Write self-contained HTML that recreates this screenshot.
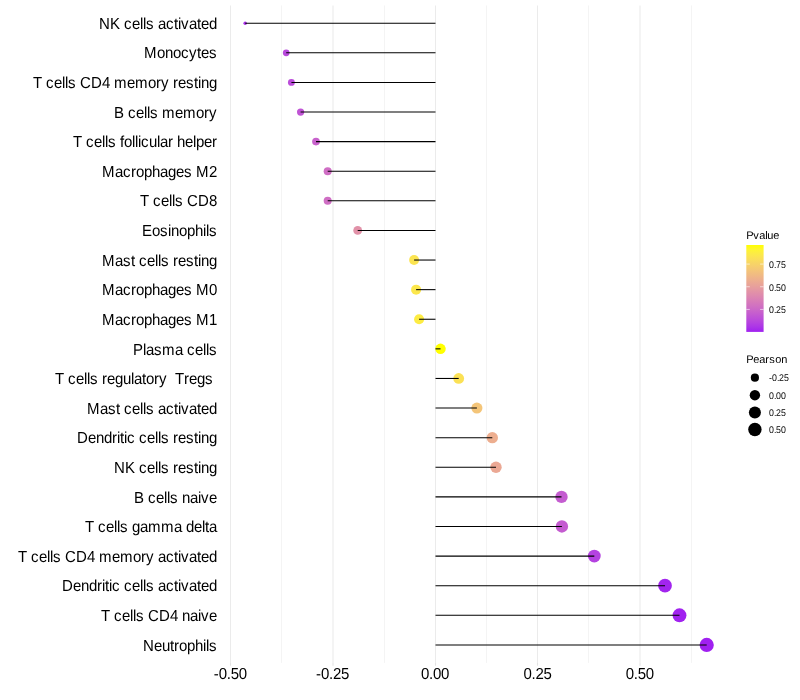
<!DOCTYPE html>
<html><head><meta charset="utf-8"><style>
html,body{margin:0;padding:0;background:#fff;width:800px;height:700px;overflow:hidden}
svg{display:block;will-change:transform}
text{font-family:"Liberation Sans",sans-serif;text-rendering:geometricPrecision}
.yl{font-size:15px;fill:#000}
.lt{font-size:11px;fill:#000}
.ll{font-size:8.8px;fill:#000}
</style></head><body>
<svg width="800" height="700" viewBox="0 0 800 700">
<rect width="800" height="700" fill="#fff"/>
<defs><linearGradient id="g" x1="0" y1="0" x2="0" y2="1"><stop offset="0.000" stop-color="#ffff00"/><stop offset="0.050" stop-color="#fef530"/><stop offset="0.100" stop-color="#fceb46"/><stop offset="0.150" stop-color="#fbe156"/><stop offset="0.200" stop-color="#f8d763"/><stop offset="0.250" stop-color="#f6cd6f"/><stop offset="0.300" stop-color="#f3c37a"/><stop offset="0.350" stop-color="#f0b984"/><stop offset="0.400" stop-color="#edaf8e"/><stop offset="0.450" stop-color="#e9a597"/><stop offset="0.500" stop-color="#e59ba0"/><stop offset="0.550" stop-color="#e190a9"/><stop offset="0.600" stop-color="#dc86b1"/><stop offset="0.650" stop-color="#d77bb9"/><stop offset="0.700" stop-color="#d171c1"/><stop offset="0.750" stop-color="#ca66c9"/><stop offset="0.800" stop-color="#c35ad1"/><stop offset="0.850" stop-color="#bc4ed9"/><stop offset="0.900" stop-color="#b441e1"/><stop offset="0.950" stop-color="#aa33e8"/><stop offset="1.000" stop-color="#a020f0"/></linearGradient></defs>
<line x1="230.50" y1="5.5" x2="230.50" y2="662.9" stroke="#ebebeb" stroke-width="1.07"/>
<line x1="230.50" y1="662.9" x2="230.50" y2="665.7" stroke="#e3e3e3" stroke-width="1.07"/>
<line x1="281.50" y1="5.5" x2="281.50" y2="662.9" stroke="#ebebeb" stroke-width="0.53"/>
<line x1="333.00" y1="5.5" x2="333.00" y2="662.9" stroke="#ebebeb" stroke-width="1.07"/>
<line x1="333.00" y1="662.9" x2="333.00" y2="665.7" stroke="#e3e3e3" stroke-width="1.07"/>
<line x1="384.50" y1="5.5" x2="384.50" y2="662.9" stroke="#ebebeb" stroke-width="0.53"/>
<line x1="435.50" y1="5.5" x2="435.50" y2="662.9" stroke="#ebebeb" stroke-width="1.07"/>
<line x1="435.50" y1="662.9" x2="435.50" y2="665.7" stroke="#e3e3e3" stroke-width="1.07"/>
<line x1="486.50" y1="5.5" x2="486.50" y2="662.9" stroke="#ebebeb" stroke-width="0.53"/>
<line x1="537.50" y1="5.5" x2="537.50" y2="662.9" stroke="#ebebeb" stroke-width="1.07"/>
<line x1="537.50" y1="662.9" x2="537.50" y2="665.7" stroke="#e3e3e3" stroke-width="1.07"/>
<line x1="588.50" y1="5.5" x2="588.50" y2="662.9" stroke="#ebebeb" stroke-width="0.53"/>
<line x1="640.00" y1="5.5" x2="640.00" y2="662.9" stroke="#ebebeb" stroke-width="1.07"/>
<line x1="640.00" y1="662.9" x2="640.00" y2="665.7" stroke="#e3e3e3" stroke-width="1.07"/>
<line x1="691.50" y1="5.5" x2="691.50" y2="662.9" stroke="#ebebeb" stroke-width="0.53"/>
<circle cx="245.20" cy="23.20" r="1.77" fill="#a931e9"/>
<circle cx="286.20" cy="52.80" r="3.36" fill="#b849dc"/>
<circle cx="291.40" cy="82.41" r="3.45" fill="#bb4dda"/>
<circle cx="300.60" cy="112.02" r="3.62" fill="#c054d5"/>
<circle cx="316.00" cy="141.62" r="3.86" fill="#c862cc"/>
<circle cx="327.70" cy="171.22" r="4.02" fill="#cf6ec4"/>
<circle cx="327.70" cy="200.83" r="4.02" fill="#cf6ec4"/>
<circle cx="357.70" cy="230.44" r="4.40" fill="#e191a8"/>
<circle cx="414.10" cy="260.04" r="4.99" fill="#fbe451"/>
<circle cx="416.10" cy="289.64" r="5.01" fill="#fce74c"/>
<circle cx="419.10" cy="319.25" r="5.04" fill="#fdec43"/>
<circle cx="440.50" cy="348.86" r="5.24" fill="#ffff00"/>
<circle cx="458.70" cy="378.46" r="5.40" fill="#fbe155"/>
<circle cx="476.90" cy="408.06" r="5.55" fill="#f4c579"/>
<circle cx="492.30" cy="437.67" r="5.67" fill="#edae8f"/>
<circle cx="496.00" cy="467.27" r="5.70" fill="#eba894"/>
<circle cx="561.50" cy="496.88" r="6.18" fill="#c45cd0"/>
<circle cx="561.90" cy="526.49" r="6.19" fill="#c45bd0"/>
<circle cx="594.30" cy="556.09" r="6.41" fill="#b442e0"/>
<circle cx="665.00" cy="585.70" r="6.86" fill="#a225ee"/>
<circle cx="679.50" cy="615.30" r="6.94" fill="#a122ef"/>
<circle cx="706.70" cy="644.91" r="7.10" fill="#a020f0"/>
<line x1="435.50" y1="23.20" x2="245.20" y2="23.20" stroke="#000" stroke-width="1.07"/>
<line x1="435.50" y1="52.80" x2="286.20" y2="52.80" stroke="#000" stroke-width="1.07"/>
<line x1="435.50" y1="82.41" x2="291.40" y2="82.41" stroke="#000" stroke-width="1.07"/>
<line x1="435.50" y1="112.02" x2="300.60" y2="112.02" stroke="#000" stroke-width="1.07"/>
<line x1="435.50" y1="141.62" x2="316.00" y2="141.62" stroke="#000" stroke-width="1.07"/>
<line x1="435.50" y1="171.22" x2="327.70" y2="171.22" stroke="#000" stroke-width="1.07"/>
<line x1="435.50" y1="200.83" x2="327.70" y2="200.83" stroke="#000" stroke-width="1.07"/>
<line x1="435.50" y1="230.44" x2="357.70" y2="230.44" stroke="#000" stroke-width="1.07"/>
<line x1="435.50" y1="260.04" x2="414.10" y2="260.04" stroke="#000" stroke-width="1.07"/>
<line x1="435.50" y1="289.64" x2="416.10" y2="289.64" stroke="#000" stroke-width="1.07"/>
<line x1="435.50" y1="319.25" x2="419.10" y2="319.25" stroke="#000" stroke-width="1.07"/>
<line x1="435.50" y1="348.86" x2="440.50" y2="348.86" stroke="#000" stroke-width="1.07"/>
<line x1="435.50" y1="378.46" x2="458.70" y2="378.46" stroke="#000" stroke-width="1.07"/>
<line x1="435.50" y1="408.06" x2="476.90" y2="408.06" stroke="#000" stroke-width="1.07"/>
<line x1="435.50" y1="437.67" x2="492.30" y2="437.67" stroke="#000" stroke-width="1.07"/>
<line x1="435.50" y1="467.27" x2="496.00" y2="467.27" stroke="#000" stroke-width="1.07"/>
<line x1="435.50" y1="496.88" x2="561.50" y2="496.88" stroke="#000" stroke-width="1.07"/>
<line x1="435.50" y1="526.49" x2="561.90" y2="526.49" stroke="#000" stroke-width="1.07"/>
<line x1="435.50" y1="556.09" x2="594.30" y2="556.09" stroke="#000" stroke-width="1.07"/>
<line x1="435.50" y1="585.70" x2="665.00" y2="585.70" stroke="#000" stroke-width="1.07"/>
<line x1="435.50" y1="615.30" x2="679.50" y2="615.30" stroke="#000" stroke-width="1.07"/>
<line x1="435.50" y1="644.91" x2="706.70" y2="644.91" stroke="#000" stroke-width="1.07"/>
<text x="99.00 110.00 120.00 124.00 132.00 140.00 143.00 146.00 154.00 158.00 166.00 174.00 178.00 181.00 189.00 197.00 201.00 209.00" y="0" transform="translate(0,29.00) scale(1,1.06)" class="yl">NK&#160;cells&#160;activated</text>
<text x="144.00 157.00 165.00 173.00 181.00 189.00 197.00 201.00 209.00" y="0" transform="translate(0,58.00) scale(1,1.06)" class="yl">Monocytes</text>
<text x="33.00 42.00 46.00 54.00 62.00 65.00 68.00 76.00 80.00 91.00 102.00 110.00 114.00 127.00 135.00 148.00 156.00 161.00 169.00 173.00 178.00 186.00 194.00 198.00 201.00 209.00" y="0" transform="translate(0,88.00) scale(1,1.06)" class="yl">T&#160;cells&#160;CD4&#160;memory&#160;resting</text>
<text x="114.00 124.00 128.00 136.00 144.00 147.00 150.00 158.00 162.00 175.00 183.00 196.00 204.00 209.00" y="0" transform="translate(0,118.00) scale(1,1.06)" class="yl">B&#160;cells&#160;memory</text>
<text x="73.00 82.00 86.00 94.00 102.00 105.00 108.00 116.00 120.00 124.00 132.00 135.00 138.00 141.00 149.00 157.00 160.00 168.00 173.00 177.00 185.00 193.00 196.00 204.00 212.00" y="0" transform="translate(0,147.00) scale(1,1.06)" class="yl">T&#160;cells&#160;follicular&#160;helper</text>
<text x="102.00 115.00 123.00 131.00 136.00 144.00 152.00 160.00 168.00 176.00 184.00 192.00 196.00 209.00" y="0" transform="translate(0,177.00) scale(1,1.06)" class="yl">Macrophages&#160;M2</text>
<text x="140.00 149.00 153.00 161.00 169.00 172.00 175.00 183.00 187.00 198.00 209.00" y="0" transform="translate(0,206.00) scale(1,1.06)" class="yl">T&#160;cells&#160;CD8</text>
<text x="142.00 152.00 160.00 168.00 171.00 179.00 187.00 195.00 203.00 206.00 209.00" y="0" transform="translate(0,236.00) scale(1,1.06)" class="yl">Eosinophils</text>
<text x="102.00 115.00 123.00 131.00 135.00 139.00 147.00 155.00 158.00 161.00 169.00 173.00 178.00 186.00 194.00 198.00 201.00 209.00" y="0" transform="translate(0,266.00) scale(1,1.06)" class="yl">Mast&#160;cells&#160;resting</text>
<text x="102.00 115.00 123.00 131.00 136.00 144.00 152.00 160.00 168.00 176.00 184.00 192.00 196.00 209.00" y="0" transform="translate(0,295.00) scale(1,1.06)" class="yl">Macrophages&#160;M0</text>
<text x="102.00 115.00 123.00 131.00 136.00 144.00 152.00 160.00 168.00 176.00 184.00 192.00 196.00 209.00" y="0" transform="translate(0,325.00) scale(1,1.06)" class="yl">Macrophages&#160;M1</text>
<text x="133.00 143.00 146.00 154.00 162.00 175.00 183.00 187.00 195.00 203.00 206.00 209.00" y="0" transform="translate(0,355.00) scale(1,1.06)" class="yl">Plasma&#160;cells</text>
<text x="55.00 64.00 68.00 76.00 84.00 87.00 90.00 98.00 102.00 107.00 115.00 123.00 131.00 134.00 142.00 146.00 154.00 159.00 167.00 171.00 175.00 184.00 189.00 197.00 205.00 213.00" y="0" transform="translate(0,384.00) scale(1,1.06)" class="yl">T&#160;cells&#160;regulatory&#160;&#160;Tregs&#160;</text>
<text x="87.00 100.00 108.00 116.00 120.00 124.00 132.00 140.00 143.00 146.00 154.00 158.00 166.00 174.00 178.00 181.00 189.00 197.00 201.00 209.00" y="0" transform="translate(0,414.00) scale(1,1.06)" class="yl">Mast&#160;cells&#160;activated</text>
<text x="77.00 88.00 96.00 104.00 112.00 117.00 120.00 124.00 127.00 135.00 139.00 147.00 155.00 158.00 161.00 169.00 173.00 178.00 186.00 194.00 198.00 201.00 209.00" y="0" transform="translate(0,443.00) scale(1,1.06)" class="yl">Dendritic&#160;cells&#160;resting</text>
<text x="114.00 125.00 135.00 139.00 147.00 155.00 158.00 161.00 169.00 173.00 178.00 186.00 194.00 198.00 201.00 209.00" y="0" transform="translate(0,473.00) scale(1,1.06)" class="yl">NK&#160;cells&#160;resting</text>
<text x="134.00 144.00 148.00 156.00 164.00 167.00 170.00 178.00 182.00 190.00 198.00 201.00 209.00" y="0" transform="translate(0,503.00) scale(1,1.06)" class="yl">B&#160;cells&#160;naive</text>
<text x="85.00 94.00 98.00 106.00 114.00 117.00 120.00 128.00 132.00 140.00 148.00 161.00 174.00 182.00 186.00 194.00 202.00 205.00 209.00" y="0" transform="translate(0,532.00) scale(1,1.06)" class="yl">T&#160;cells&#160;gamma&#160;delta</text>
<text x="18.00 27.00 31.00 39.00 47.00 50.00 53.00 61.00 65.00 76.00 87.00 95.00 99.00 112.00 120.00 133.00 141.00 146.00 154.00 158.00 166.00 174.00 178.00 181.00 189.00 197.00 201.00 209.00" y="0" transform="translate(0,562.00) scale(1,1.06)" class="yl">T&#160;cells&#160;CD4&#160;memory&#160;activated</text>
<text x="62.00 73.00 81.00 89.00 97.00 102.00 105.00 109.00 112.00 120.00 124.00 132.00 140.00 143.00 146.00 154.00 158.00 166.00 174.00 178.00 181.00 189.00 197.00 201.00 209.00" y="0" transform="translate(0,591.00) scale(1,1.06)" class="yl">Dendritic&#160;cells&#160;activated</text>
<text x="101.00 110.00 114.00 122.00 130.00 133.00 136.00 144.00 148.00 159.00 170.00 178.00 182.00 190.00 198.00 201.00 209.00" y="0" transform="translate(0,621.00) scale(1,1.06)" class="yl">T&#160;cells&#160;CD4&#160;naive</text>
<text x="143.00 154.00 162.00 170.00 174.00 179.00 187.00 195.00 203.00 206.00 209.00" y="0" transform="translate(0,651.00) scale(1,1.06)" class="yl">Neutrophils</text>
<text x="213.65 218.65 226.65 230.65 238.65" y="0" transform="translate(0,678.80) scale(1,1.06)" class="yl">-0.50</text>
<text x="316.07 321.07 329.07 333.07 341.07" y="0" transform="translate(0,678.80) scale(1,1.06)" class="yl">-0.25</text>
<text x="421.00 429.00 433.00 441.00" y="0" transform="translate(0,678.80) scale(1,1.06)" class="yl">0.00</text>
<text x="523.42 531.42 535.42 543.42" y="0" transform="translate(0,678.80) scale(1,1.06)" class="yl">0.25</text>
<text x="625.85 633.85 637.85 645.85" y="0" transform="translate(0,678.80) scale(1,1.06)" class="yl">0.50</text>
<rect x="746.3" y="245.0" width="17.3" height="86.90" fill="url(#g)"/>
<line x1="746.3" y1="309.42" x2="749.8" y2="309.42" stroke="#fff" stroke-width="0.6"/>
<line x1="760.0999999999999" y1="309.42" x2="763.5999999999999" y2="309.42" stroke="#fff" stroke-width="0.6"/>
<text x="769.00 774.00 776.00 781.00" y="0" transform="translate(0,313.00) scale(1,1.1)" class="ll">0.25</text>
<line x1="746.3" y1="286.75" x2="749.8" y2="286.75" stroke="#fff" stroke-width="0.6"/>
<line x1="760.0999999999999" y1="286.75" x2="763.5999999999999" y2="286.75" stroke="#fff" stroke-width="0.6"/>
<text x="769.00 774.00 776.00 781.00" y="0" transform="translate(0,291.00) scale(1,1.1)" class="ll">0.50</text>
<line x1="746.3" y1="264.08" x2="749.8" y2="264.08" stroke="#fff" stroke-width="0.6"/>
<line x1="760.0999999999999" y1="264.08" x2="763.5999999999999" y2="264.08" stroke="#fff" stroke-width="0.6"/>
<text x="769.00 774.00 776.00 781.00" y="0" transform="translate(0,268.00) scale(1,1.1)" class="ll">0.75</text>
<text x="746.30 753.30 759.30 765.30 767.30 773.30" y="238.50" class="lt">Pvalue</text>
<text x="746.30 753.30 759.30 765.30 769.30 775.30 781.30" y="363.00" class="lt">Pearson</text>
<circle cx="754.9" cy="377.7" r="4.09" fill="#000"/>
<text x="769.00 772.00 777.00 779.00 784.00" y="0" transform="translate(0,381.00) scale(1,1.1)" class="ll">-0.25</text>
<circle cx="754.9" cy="395.2" r="5.19" fill="#000"/>
<text x="769.00 774.00 776.00 781.00" y="0" transform="translate(0,399.00) scale(1,1.1)" class="ll">0.00</text>
<circle cx="754.9" cy="412.5" r="6.02" fill="#000"/>
<text x="769.00 774.00 776.00 781.00" y="0" transform="translate(0,416.00) scale(1,1.1)" class="ll">0.25</text>
<circle cx="754.9" cy="429.5" r="6.70" fill="#000"/>
<text x="769.00 774.00 776.00 781.00" y="0" transform="translate(0,433.00) scale(1,1.1)" class="ll">0.50</text>
</svg></body></html>
